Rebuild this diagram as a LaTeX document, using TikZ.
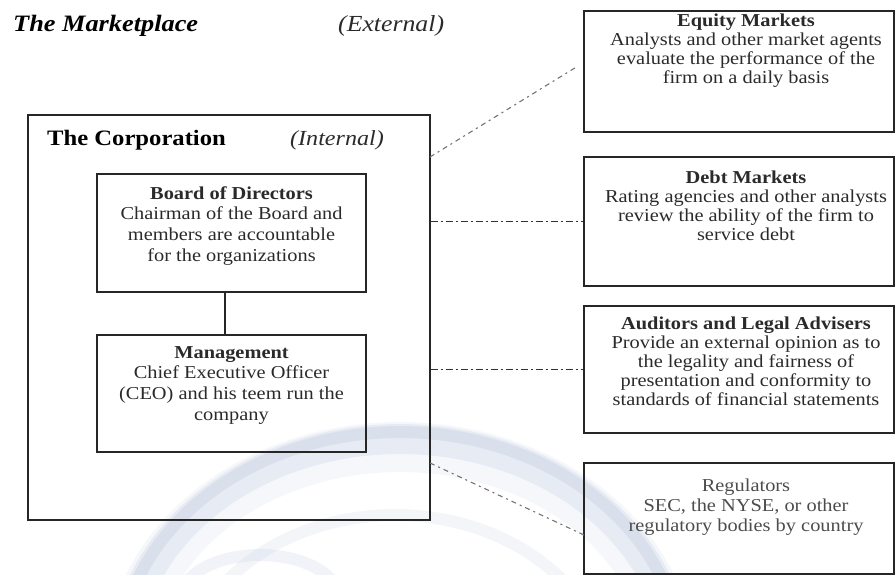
\documentclass[tikz,border=0pt]{standalone}
\usepackage{fontspec}
\setmainfont[FakeStretch=1.12]{Liberation Serif}
\definecolor{txt}{HTML}{2A2A2A}
\definecolor{swoosh}{RGB}{176,188,214}
\begin{document}
\begin{tikzpicture}[x=1pt,y=-1pt,
  frame/.style={draw=black!85, line width=1.1pt, rectangle, inner sep=0pt},
  bodytext/.style={anchor=north, align=center, inner sep=0pt, text=txt, font=\fontsize{18.2}{20.8}\selectfont},
  sidetext/.style={anchor=north, align=center, inner sep=0pt, text=txt, font=\fontsize{18.2}{18.8}\selectfont},
  link/.style={draw=black!80, line width=1.1pt, dash pattern=on 7pt off 3pt on 2pt off 3pt},
  faintlink/.style={draw=black!55, line width=1.1pt, dash pattern=on 5pt off 4pt on 2pt off 4pt}
]
\useasboundingbox (0,0) rectangle (896,575);
% watermark swoosh
\begin{scope}
\clip (0,0) rectangle (896,575);
\draw[swoosh, line width=50pt, opacity=0.12] plot[domain=195:355, samples=80] ({400+270*cos(\x)}, {665+218*sin(\x)});
\draw[swoosh, line width=30pt, opacity=0.2] plot[domain=195:355, samples=80] ({400+276*cos(\x)}, {665+226*sin(\x)});
\draw[swoosh, line width=12pt, opacity=0.25] plot[domain=195:355, samples=80] ({400+282*cos(\x)}, {665+233*sin(\x)});
\draw[swoosh, line width=12pt, opacity=0.15] plot[domain=200:330, samples=80] ({395+215*cos(\x)}, {690+175*sin(\x)});
\draw[swoosh, line width=12pt, opacity=0.18] plot[domain=200:340, samples=80] ({260+80*cos(\x)}, {600+45*sin(\x)});
\end{scope}

% titles
\node[anchor=base west, inner sep=0pt, font=\fontsize{23.5}{26}\selectfont\bfseries\itshape] (mkt) at (13,32) {The Marketplace};
\node[anchor=base west, inner sep=0pt, text=txt, font=\fontsize{23}{26}\selectfont\itshape] (ext) at (338,32) {(External)};

% corporation
\node[frame, minimum width=402pt, minimum height=405pt] (corp) at (229,317.5) {};
\node[anchor=base west, inner sep=0pt, font=\fontsize{22}{24}\selectfont\bfseries] (corpt) at (47,146) {The Corporation};
\node[anchor=base west, inner sep=0pt, text=txt, font=\fontsize{21.5}{24}\selectfont\itshape] (intt) at (290,146) {(Internal)};

\node[frame, minimum width=269pt, minimum height=118pt] (board) at (231.5,233) {};
\node[bodytext] (boardt) at (231.5,186) {\textbf{Board of Directors}\\Chairman of the Board and\\members are accountable\\for the organizations};

\node[frame, minimum width=269pt, minimum height=117pt] (mgmt) at (231.5,393.5) {};
\node[bodytext] (mgmtt) at (231.5,346) {\textbf{Management}\\Chief Executive Officer\\(CEO) and his teem run the\\company};

\draw[black!85, line width=1.1pt] ([xshift=-6.5pt]board.south) -- ([xshift=-6.5pt]mgmt.north);

% external boxes
\node[frame, minimum width=310pt, minimum height=121pt] (eq) at (739,71.5) {};
\node[sidetext] (eqt) at (746,14) {\textbf{Equity Markets}\\Analysts and other market agents\\evaluate the performance of the\\firm on a daily basis};

\node[frame, minimum width=310pt, minimum height=129pt] (debt) at (739,221.5) {};
\node[sidetext] (debtt) at (746,171) {\textbf{Debt Markets}\\Rating agencies and other analysts\\review the ability of the firm to\\service debt};

\node[frame, minimum width=310pt, minimum height=127pt] (aud) at (739,369.5) {};
\node[sidetext] (audt) at (746,317) {\textbf{Auditors and Legal Advisers}\\Provide an external opinion as to\\the legality and fairness of\\presentation and conformity to\\standards of financial statements};

\node[frame, minimum width=310pt, minimum height=111pt] (reg) at (739,518.5) {};
\node[sidetext, text=black!70, font=\fontsize{18.2}{19.8}\selectfont] (regt) at (746,479) {Regulators\\SEC, the NYSE, or other\\regulatory bodies by country};

% connectors
\coordinate (eqfrom) at (430,157);
\coordinate (eqto) at (578,66);
\coordinate (regfrom) at (430,463);
\coordinate (regto) at (584,535);
\draw[faintlink] (eqfrom) -- (eqto);
\draw[link] (debt.west -| corp.east) -- (debt.west);
\draw[link] (aud.west -| corp.east) -- (aud.west);
\draw[faintlink] (regfrom) -- (regto);
\end{tikzpicture}
\end{document}
